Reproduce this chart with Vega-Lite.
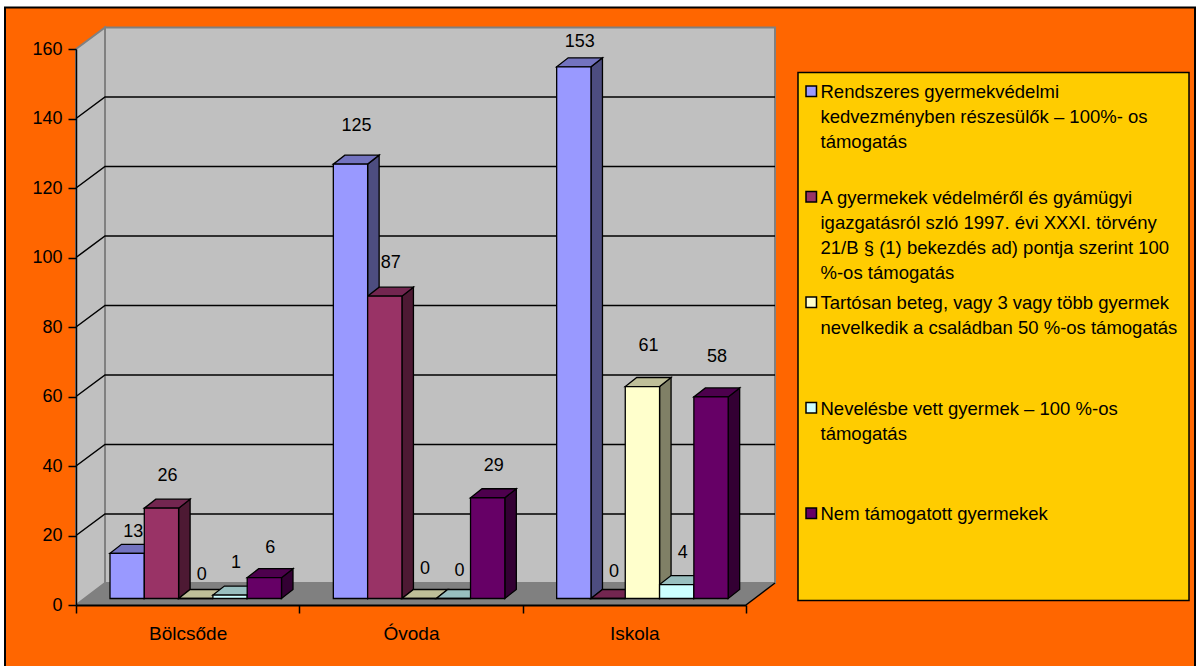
{
"$schema":"https://vega.github.io/schema/vega-lite/v6.json",
"width":670,"height":556,"autosize":"none",
"padding":{"left":76,"top":49,"right":450,"bottom":61},
"background":"white",
"config":{"view":{"stroke":null},"font":"Liberation Sans","text":{"font":"Liberation Sans"},
 "axisY":{"title":null,"grid":false,"tickCount":9,"labelFontSize":18,"labelColor":"black","labelPadding":6,"tickSize":8,"tickColor":"black","tickWidth":1.5,"domainColor":"black","domainWidth":1.5},
 "axisX":{"title":null,"labelAngle":0,"labelFontSize":19,"labelColor":"black","labelPadding":11,"tickBand":"extent","tickSize":8,"tickColor":"black","tickWidth":1.5,"domainColor":"black","domainWidth":2}
},
"datasets":{
"bars":[
{"group":"Bölcsőde","series":"Rendszeres gyermekvédelmi|kedvezményben részesülők – 100%- os|támogatás","value":13,"labelAt":20.9},
{"group":"Bölcsőde","series":"A gyermekek védelméről és gyámügyi|igazgatásról szló 1997. évi XXXI. törvény|21/B § (1) bekezdés ad) pontja szerint 100|%-os támogatás","value":26,"labelAt":37.0},
{"group":"Bölcsőde","series":"Tartósan beteg, vagy 3 vagy több gyermek|nevelkedik a családban 50 %-os támogatás","value":0,"labelAt":8.5},
{"group":"Bölcsőde","series":"Nevelésbe vett gyermek – 100 %-os|támogatás","value":1,"labelAt":12.2},
{"group":"Bölcsőde","series":"Nem támogatott gyermekek","value":6,"labelAt":16.5},
{"group":"Óvoda","series":"Rendszeres gyermekvédelmi|kedvezményben részesülők – 100%- os|támogatás","value":125,"labelAt":137.7},
{"group":"Óvoda","series":"A gyermekek védelméről és gyámügyi|igazgatásról szló 1997. évi XXXI. törvény|21/B § (1) bekezdés ad) pontja szerint 100|%-os támogatás","value":87,"labelAt":98.3},
{"group":"Óvoda","series":"Tartósan beteg, vagy 3 vagy több gyermek|nevelkedik a családban 50 %-os támogatás","value":0,"labelAt":10.5},
{"group":"Óvoda","series":"Nevelésbe vett gyermek – 100 %-os|támogatás","value":0,"labelAt":9.9},
{"group":"Óvoda","series":"Nem támogatott gyermekek","value":29,"labelAt":39.9},
{"group":"Iskola","series":"Rendszeres gyermekvédelmi|kedvezményben részesülők – 100%- os|támogatás","value":153,"labelAt":161.9},
{"group":"Iskola","series":"A gyermekek védelméről és gyámügyi|igazgatásról szló 1997. évi XXXI. törvény|21/B § (1) bekezdés ad) pontja szerint 100|%-os támogatás","value":0,"labelAt":9.4},
{"group":"Iskola","series":"Tartósan beteg, vagy 3 vagy több gyermek|nevelkedik a családban 50 %-os támogatás","value":61,"labelAt":74.4},
{"group":"Iskola","series":"Nevelésbe vett gyermek – 100 %-os|támogatás","value":4,"labelAt":15.1},
{"group":"Iskola","series":"Nem támogatott gyermekek","value":58,"labelAt":71.5}
],
"ticks":[{"level":20},{"level":40},{"level":60},{"level":80},{"level":100},{"level":120},{"level":140}]
},
"layer":[
{"data":{"values":[{"level":160}]},
 "mark":{"type":"point","filled":true,"opacity":1,"fill":"#FF6600","stroke":"black","strokeWidth":2,"size":4,"shape":"M-71 -41.5H1119V640H-71Z"},
 "encoding":{"x":{"value":0},"y":{"field":"level","type":"quantitative","title":null,"axis":{"zindex":1},"scale":{"domain":[0,160],"nice":false}}}},
{"data":{"values":[{"level":160}]},
 "mark":{"type":"point","filled":true,"opacity":1,"fill":"#FFCC00","stroke":"black","strokeWidth":1.5,"size":4,"shape":"M722 23.5H1113V551.5H722Z"},
 "encoding":{"x":{"value":0},"y":{"field":"level","type":"quantitative","title":null,"axis":{"zindex":1},"scale":{"domain":[0,160],"nice":false}}}},
{"data":{"values":[{"level":160}]},
 "mark":{"type":"point","filled":true,"opacity":1,"fill":"#C0C0C0","stroke":"#808080","strokeWidth":2,"size":4,"shape":"M29 -21.5H699V534H29Z"},
 "encoding":{"x":{"value":0},"y":{"field":"level","type":"quantitative","title":null,"axis":{"zindex":1},"scale":{"domain":[0,160],"nice":false}}}},
{"data":{"values":[{"level":160}]},
 "mark":{"type":"point","filled":true,"opacity":1,"fill":"#C0C0C0","stroke":"#808080","strokeWidth":2,"size":4,"shape":"M0 0L29 -21.5V534L0 556Z"},
 "encoding":{"x":{"value":0},"y":{"field":"level","type":"quantitative","title":null,"axis":{"zindex":1},"scale":{"domain":[0,160],"nice":false}}}},
{"data":{"name":"ticks"},
 "mark":{"type":"point","filled":false,"opacity":1,"stroke":"black","strokeWidth":1.5,"size":4,"shape":"M0 0L29 -21.5H699"},
 "encoding":{"x":{"value":0},"y":{"field":"level","type":"quantitative","title":null,"axis":{"zindex":1},"scale":{"domain":[0,160],"nice":false}}}},
{"data":{"values":[{"level":0}]},
 "mark":{"type":"point","filled":true,"opacity":1,"fill":"#808080","strokeWidth":0,"size":4,"shape":"M0 0L29 -22H699L670 0Z"},
 "encoding":{"x":{"value":0},"y":{"field":"level","type":"quantitative","title":null,"axis":{"zindex":1},"scale":{"domain":[0,160],"nice":false}}}},
{"data":{"values":[{"level":0}]},
 "mark":{"type":"point","filled":false,"opacity":1,"stroke":"black","strokeWidth":1.5,"size":4,"shape":"M670 0L699 -22"},
 "encoding":{"x":{"value":0},"y":{"field":"level","type":"quantitative","title":null,"axis":{"zindex":1},"scale":{"domain":[0,160],"nice":false}}}},
{"data":{"name":"bars"},
 "mark":{"type":"point","filled":true,"opacity":1,"stroke":"black","strokeWidth":1.3,"size":4,"yOffset":-6.5},
 "encoding":{
  "x":{"field":"group","type":"nominal","title":null,"axis":{"zindex":1},"sort":["Bölcsőde","Óvoda","Iskola"],"scale":{"paddingInner":0,"paddingOuter":0}},
  "xOffset":{"field":"series","type":"nominal","sort":null,"scale":{"range":[34,205.5]}},
  "y":{"field":"value","type":"quantitative","title":null,"axis":{"zindex":1},"scale":{"domain":[0,160],"nice":false}},
  "fill":{"field":"series","type":"nominal","sort":null,"legend":null,"scale":{"range":["#4D4D80","#4D1933","#808066","#668080","#330033"]}},
  "shape":{"field":"value","type":"nominal","legend":null,"scale":{"domain":[0,1,4,6,13,26,29,58,61,87,125,153],"range":[
   "M17.15 0L28.65 -9L17.15 0Z",
   "M17.15 0L28.65 -9V-5.5L17.15 3.5Z",
   "M17.15 0L28.65 -9V4.9L17.15 13.9Z",
   "M17.15 0L28.65 -9V11.85L17.15 20.85Z",
   "M17.15 0L28.65 -9V36.2L17.15 45.2Z",
   "M17.15 0L28.65 -9V81.35L17.15 90.35Z",
   "M17.15 0L28.65 -9V91.8L17.15 100.8Z",
   "M17.15 0L28.65 -9V192.55L17.15 201.55Z",
   "M17.15 0L28.65 -9V203L17.15 212Z",
   "M17.15 0L28.65 -9V293.3L17.15 302.3Z",
   "M17.15 0L28.65 -9V425.4L17.15 434.4Z",
   "M17.15 0L28.65 -9V522.7L17.15 531.7Z"]}}
 }},
{"data":{"name":"bars"},
 "mark":{"type":"point","filled":true,"opacity":1,"stroke":"black","strokeWidth":1.3,"size":4,"yOffset":-6.5,"shape":"M-17.15 0H17.15L28.65 -9H-5.65Z"},
 "encoding":{
  "x":{"field":"group","type":"nominal","title":null,"axis":{"zindex":1},"sort":["Bölcsőde","Óvoda","Iskola"],"scale":{"paddingInner":0,"paddingOuter":0}},
  "xOffset":{"field":"series","type":"nominal","sort":null,"scale":{"range":[34,205.5]}},
  "y":{"field":"value","type":"quantitative","title":null,"axis":{"zindex":1},"scale":{"domain":[0,160],"nice":false}},
  "fill":{"field":"series","type":"nominal","sort":null,"legend":null,"scale":{"range":["#7373BF","#732650","#BFBF99","#99BFBF","#4D004D"]}}
 }},
{"data":{"name":"bars"},
 "mark":{"type":"bar","stroke":"black","strokeWidth":1.3,"yOffset":-6.5,"y2Offset":-6.5},
 "encoding":{
  "x":{"field":"group","type":"nominal","title":null,"axis":{"zindex":1},"sort":["Bölcsőde","Óvoda","Iskola"],"scale":{"paddingInner":0,"paddingOuter":0}},
  "xOffset":{"field":"series","type":"nominal","sort":null,"scale":{"range":[34,205.5]}},
  "y":{"field":"value","type":"quantitative","title":null,"axis":{"zindex":1},"scale":{"domain":[0,160],"nice":false}},
  "color":{"field":"series","type":"nominal","sort":null,
   "scale":{"range":["#9999FF","#993366","#FFFFCC","#CCFFFF","#660066"]},
   "legend":{"orient":"none","legendX":721,"legendY":28,"title":null,"columns":1,"gridAlign":"all","padding":5,"rowPadding":10.5,"symbolType":"square","symbolSize":110,"symbolStrokeColor":"black","symbolStrokeWidth":1.5,"symbolOpacity":1,"labelFontSize":18.5,"labelColor":"black","labelLimit":500,"labelOffset":0,"labelBaseline":"top","labelExpr":"split(datum.label,'|')","encoding":{"labels":{"lineHeight":{"value":25},"dy":{"value":-8}}}}}
 }},
{"data":{"name":"bars"},
 "mark":{"type":"text","fontSize":18,"color":"black","baseline":"middle","align":"center","dx":6},
 "encoding":{
  "x":{"field":"group","type":"nominal","title":null,"axis":{"zindex":1},"sort":["Bölcsőde","Óvoda","Iskola"],"scale":{"paddingInner":0,"paddingOuter":0}},
  "xOffset":{"field":"series","type":"nominal","sort":null,"scale":{"range":[34,205.5]}},
  "y":{"field":"labelAt","type":"quantitative","title":null,"axis":{"zindex":1},"scale":{"domain":[0,160],"nice":false}},
  "text":{"field":"value","type":"quantitative"}
 }}
],
"resolve":{"scale":{"fill":"independent","shape":"independent"}}
}
